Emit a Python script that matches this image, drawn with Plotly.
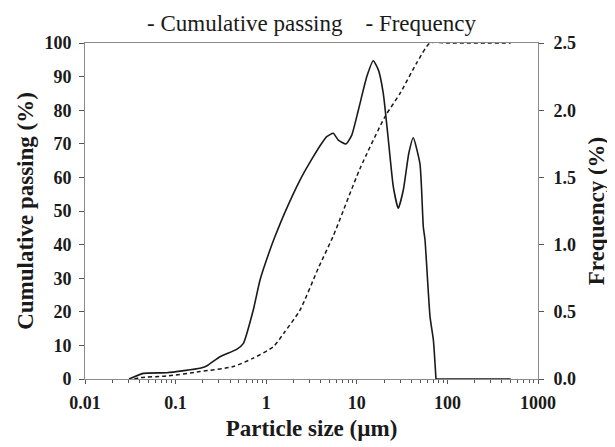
import plotly.graph_objects as go

# Frequency (right axis, %)
freq_size = [0.0306, 0.044, 0.08, 0.186, 0.22, 0.309, 0.472, 0.56, 0.72, 0.855, 1.1, 1.25,
             1.61, 2.36, 3.31, 4.1, 4.65, 5.5, 6.25, 7.6, 8.8, 10.4, 12.9, 15.2, 17.3, 19.6,
             22.3, 25.3, 28.7, 32.6, 37.5, 42, 49.8, 54.2, 56.6, 64.3, 70, 74.8, 500]
freq = [0, 0.042, 0.047, 0.08, 0.097, 0.166, 0.22, 0.265, 0.513, 0.737, 0.96, 1.06,
        1.24, 1.48, 1.654, 1.754, 1.803, 1.828, 1.778, 1.749, 1.815, 2.0, 2.25, 2.368, 2.3, 2.126,
        1.778, 1.43, 1.27, 1.406, 1.68, 1.795, 1.6, 1.133, 1.034, 0.464, 0.29, 0, 0]

# Cumulative passing (left axis, %)
cum_size = [0.035, 0.04, 0.08, 0.186, 0.433, 0.72, 1.2, 1.6, 2.36, 3.76, 5.5, 10.8, 20.5,
            30, 45.7, 64.3, 100, 500]
cum = [0, 0.4, 0.9, 2.2, 3.7, 6.2, 9.6, 14, 20.5, 33, 42.6, 62.5, 78.1,
       85, 94, 100, 100, 100]

x_tickvals = [0.01, 0.1, 1, 10, 100, 1000]
x_ticktext = ["0.01", "0.1", "1", "10", "100", "1000"]

FONT = "Liberation Serif, Times New Roman, serif"
INK = "#1a1a1a"
AXIS = "#8a8a8a"

fig = go.Figure()
fig.add_trace(go.Scatter(x=cum_size, y=cum, mode="lines", name="Cumulative passing",
                         line=dict(color=INK, width=1.5, dash="4px,3px", shape="spline", smoothing=0.6),
                         showlegend=False))
# main frequency hump (smoothed) and flat zero tail
fig.add_trace(go.Scatter(x=freq_size[:-1], y=freq[:-1], mode="lines", name="Frequency", yaxis="y2",
                         line=dict(color=INK, width=1.6, shape="spline", smoothing=0.5),
                         showlegend=False))
fig.add_trace(go.Scatter(x=freq_size[-2:], y=freq[-2:], mode="lines", name="Frequency", yaxis="y2",
                         line=dict(color=INK, width=1.6), cliponaxis=False,
                         showlegend=False))

fig.update_layout(
    width=615, height=447,
    margin=dict(l=77, r=85, t=35, b=76),
    paper_bgcolor="white", plot_bgcolor="white",
    font=dict(family=FONT, color=INK),
    xaxis=dict(type="log", range=[-2, 3], tickvals=x_tickvals, ticktext=x_ticktext, automargin=False,
               ticks="outside", ticklen=4, tickcolor="#555", showline=True, linecolor=AXIS,
               linewidth=1, mirror=True, showgrid=False, zeroline=False, ticklabelstandoff=3,
               minor=dict(ticks="outside", ticklen=3, tickcolor="#555", dtick="D1", showgrid=False),
               tickfont=dict(size=18, family=FONT, weight="bold"),
               title=dict(text="Particle size (µm)", font=dict(size=23, family=FONT, weight="bold"),
                          standoff=8)),
    yaxis=dict(range=[0, 100], dtick=10, ticks="outside", ticklen=5, tickcolor="#555", automargin=False,
               showline=True, linecolor=AXIS, linewidth=1, showgrid=False, zeroline=False,
               ticklabelstandoff=4,
               tickfont=dict(size=18, family=FONT, weight="bold"),
               title=dict(text="Cumulative passing (%)", font=dict(size=23, family=FONT, weight="bold"),
                          standoff=4)),
    yaxis2=dict(range=[0, 2.5], dtick=0.5, tickformat=".1f", overlaying="y", side="right",
                ticks="outside", ticklen=5, tickcolor="#555", showline=True, linecolor=AXIS,
                linewidth=1, showgrid=False, zeroline=False, automargin=False,
                ticklabelstandoff=6,
                tickfont=dict(size=18, family=FONT, weight="bold"),
                title=dict(text="Frequency (%)", font=dict(size=23, family=FONT, weight="bold"),
                           standoff=12)),
)

fig.add_annotation(text="- Cumulative passing&nbsp;&nbsp;&nbsp;&nbsp;- Frequency",
                   xref="paper", yref="paper", x=0.5, y=1.0, yshift=20,
                   xanchor="center", yanchor="middle", showarrow=False,
                   font=dict(size=23, family=FONT, color=INK))

fig.write_html("out.html")
